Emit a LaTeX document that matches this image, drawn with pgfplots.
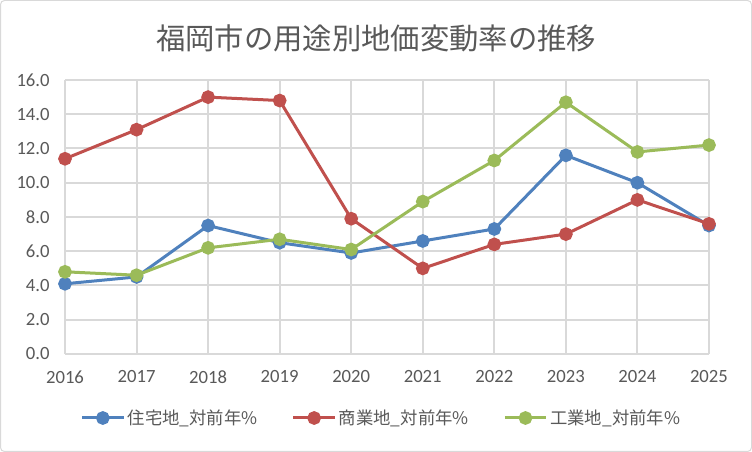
\documentclass[border=0pt]{standalone}
\usepackage{pgfplots}
\pgfplotsset{compat=1.18}
\usepackage{fontspec}
\setmainfont{Carlito}
\newfontfamily\jp{Noto Sans CJK JP}
\definecolor{cblue}{HTML}{4F81BD}
\definecolor{cred}{HTML}{C0504D}
\definecolor{cgreen}{HTML}{9BBB59}
\definecolor{txt}{HTML}{595959}
\definecolor{grd}{HTML}{D9D9D9}
\begin{document}
\begin{tikzpicture}[x=0.75pt,y=0.75pt]
\draw[grd, rounded corners=3pt, line width=0.75pt, fill=white] (0.5,0.5) rectangle (751.5,451.5);
\node[text=txt, font=\jp\fontsize{22}{26}\selectfont] at (376,414) {福岡市の用途別地価変動率の推移};
\begin{axis}[
  at={(65pt*0.75,98pt*0.75)}, anchor=south west,
  scale only axis, width=483pt, height=205.5pt,
  xmin=2016, xmax=2025, ymin=0, ymax=16,
  xtick={2016,...,2025}, ytick={0,2,...,16},
  xticklabels={2016,2017,2018,2019,2020,2021,2022,2023,2024,2025},
  y tick label style={xshift=-8pt, /pgf/number format/.cd, fixed, fixed zerofill, precision=1},
  /pgf/number format/assume math mode=true,
  ticklabel style={text=txt, font=\fontsize{14}{16}\selectfont},
  xticklabel style={yshift=-9pt},
  grid=major, major grid style={grd, line width=1.5pt},
  axis x line*=bottom, axis y line*=left,
  x axis line style={grd, line width=1.5pt, -},
  y axis line style={draw=none},
  tick style={draw=none},
  clip=false,
  legend columns=3,
  legend style={at={(axis description cs:0.5,0)}, anchor=center, yshift=-48pt, xshift=-4pt, draw=none, fill=none,
    font=\jp\fontsize{13}{15}\selectfont, text=txt,
    /tikz/every even column/.append style={column sep=24pt}},
  legend image code/.code={\draw[#1, mark=none] (0pt,0pt) -- (31pt,0pt); \fill[#1] (15.5pt,0pt) circle (4pt);},
  every axis plot/.append style={line width=2.25pt, mark=*, mark size=4pt},
]
\addplot[cblue, mark options={fill=cblue, draw=cblue}] coordinates {(2016,4.1)(2017,4.5)(2018,7.5)(2019,6.5)(2020,5.9)(2021,6.6)(2022,7.3)(2023,11.6)(2024,10.0)(2025,7.5)};
\addlegendentry{住宅地\_対前年\%}
\addplot[cred, mark options={fill=cred, draw=cred}] coordinates {(2016,11.4)(2017,13.1)(2018,15.0)(2019,14.8)(2020,7.9)(2021,5.0)(2022,6.4)(2023,7.0)(2024,9.0)(2025,7.6)};
\addlegendentry{商業地\_対前年\%}
\addplot[cgreen, mark options={fill=cgreen, draw=cgreen}] coordinates {(2016,4.8)(2017,4.6)(2018,6.2)(2019,6.7)(2020,6.1)(2021,8.9)(2022,11.3)(2023,14.7)(2024,11.8)(2025,12.2)};
\addlegendentry{工業地\_対前年\%}
\end{axis}
\end{tikzpicture}
\end{document}
